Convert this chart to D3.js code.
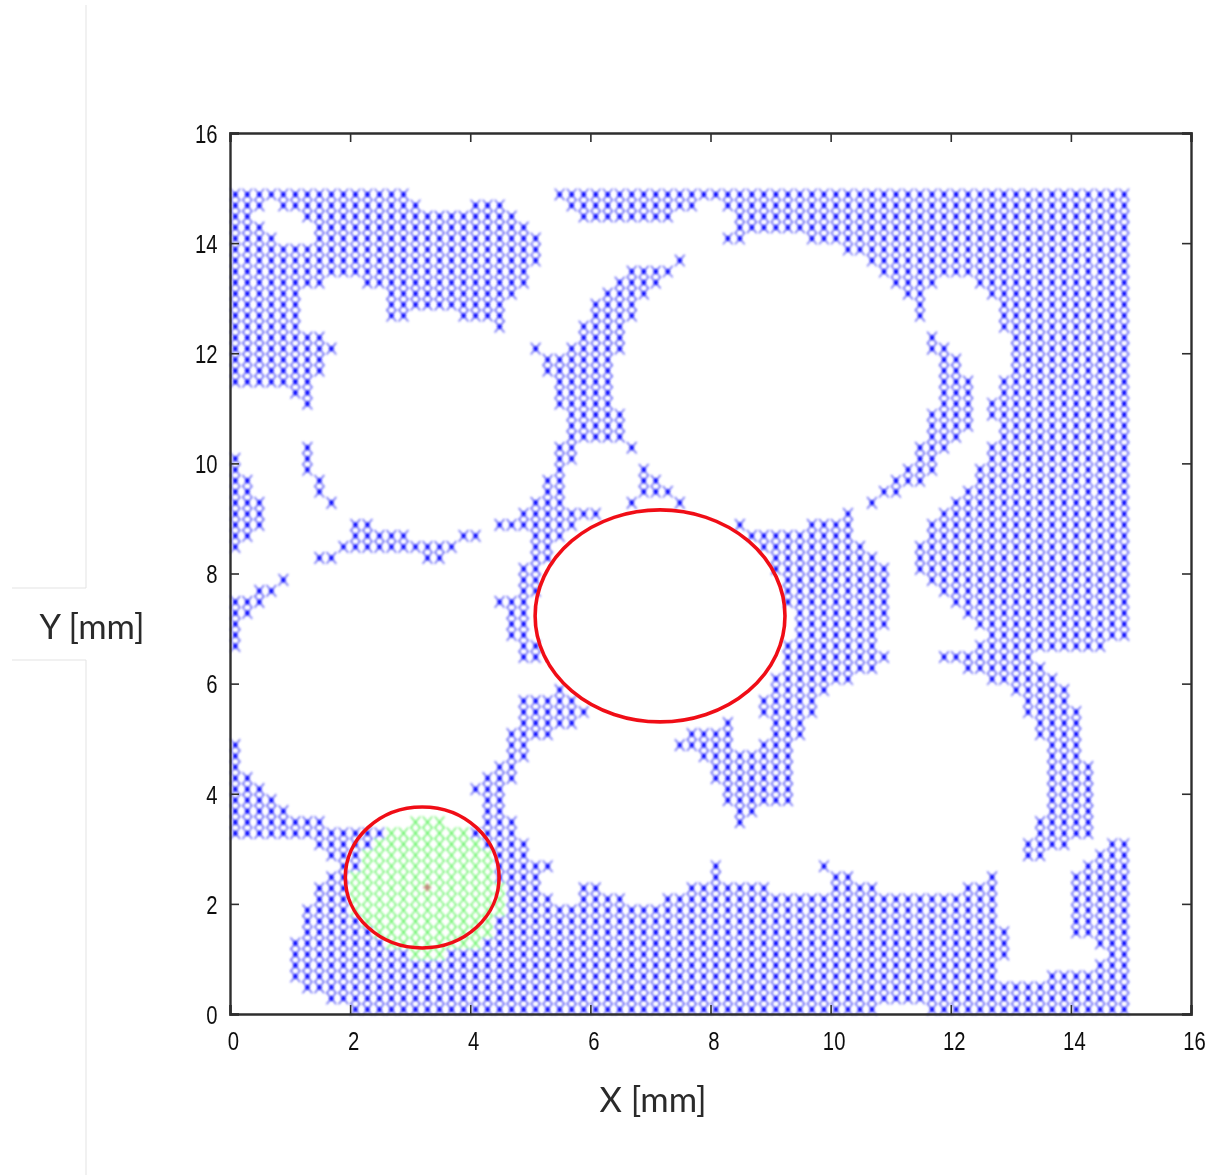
<!DOCTYPE html>
<html><head><meta charset="utf-8">
<style>html,body{margin:0;padding:0;background:#fff}svg{display:block}</style>
<script src="https://cdn.jsdelivr.net/npm/d3@7/dist/d3.min.js"></script>
</head><body>
<svg id="c" width="1210" height="1175"></svg>
<script>
// Axis
const axisDomain = [0, 16];
const tickValues = [0, 2, 4, 6, 8, 10, 12, 14, 16];
const xTitle = "X [mm]";
const yTitle = "Y [mm]";
// Measurement grid, in mm
const gridStart = 0.1;
const gridStep = 0.2;
const gridTop = 14.9;
// Runs of occupied grid columns per row, from the top row down: [first, last, first, last, ...]
const blueRuns = [
[0,14,27,74],[0,2,4,15,20,22,28,38,41,74],[0,1,6,23,29,36,42,74],[0,2,7,24,42,74],[0,3,7,25,41,42,48,74],
[0,25,51,74],[0,25,37,37,53,74],[0,24,33,36,54,74],[0,7,11,24,32,35,55,58,62,74],[0,5,13,23,31,34,56,57,63,74],
[0,5,13,22,30,33,57,57,64,74],[0,5,13,14,19,22,30,33,57,57,64,74],[0,5,22,22,29,32,64,74],[0,7,29,32,58,58,65,74],[0,8,25,25,28,32,58,59,65,74],
[0,7,26,31,59,60,65,74],[0,7,26,31,59,60,65,74],[0,6,27,31,59,61,64,74],[5,6,27,31,59,61,64,74],[6,6,27,31,59,61,63,74],
[28,32,58,61,63,74],[28,32,58,61,64,74],[28,32,58,60,64,74],[6,6,27,28,33,33,57,59,63,74],[0,0,6,6,27,28,57,58,63,74],
[0,0,6,6,27,27,34,34,56,58,62,74],[0,1,7,7,26,27,34,35,55,57,62,74],[0,1,7,7,26,27,34,36,54,55,61,74],[0,2,8,8,25,27,33,33,37,37,53,53,60,74],[0,2,24,30,51,51,59,74],
[0,2,10,11,22,28,42,42,48,51,58,74],[0,1,10,14,19,20,25,27,43,51,58,74],[0,0,9,18,25,26,44,52,57,74],[7,8,16,17,25,26,45,53,57,74],[24,25,45,54,57,74],
[4,4,24,25,46,54,58,74],[2,3,24,25,46,54,59,74],[0,2,22,24,46,54,60,74],[0,1,23,24,47,54,61,74],[0,0,23,24,47,54,62,74],
[0,0,23,24,47,53,63,74],[0,0,24,25,46,53,62,72],[24,25,46,54,59,66],[46,53,61,67],[45,51,63,68],
[27,27,45,49,65,69],[24,28,44,48,66,69],[24,29,44,48,66,70],[24,28,41,41,45,47,67,70],[23,26,38,41,45,47,67,70],
[0,0,23,24,37,41,44,46,68,70],[0,0,23,24,39,46,68,70],[0,0,22,23,40,46,68,71],[0,1,21,23,40,46,68,71],[0,2,20,22,41,46,68,71],
[0,3,21,22,41,46,68,71],[0,4,21,22,42,43,68,71],[0,7,21,23,42,42,67,71],[0,12,20,23,67,71],[7,11,21,24,66,69,73,74],
[8,10,22,24,66,67,72,74],[9,10,22,26,40,40,49,49,71,74],[8,9,22,25,40,40,50,51,63,63,70,74],[7,9,23,25,29,30,38,44,50,53,61,63,70,74],[7,9,23,26,29,32,36,63,70,74],
[6,9,23,63,70,74],[6,10,22,63,70,74],[6,11,22,64,70,74],[5,12,21,64,72,74],[5,14,18,64,73,74],
[5,63,72,74],[5,63,68,74],[6,74],[8,74],[10,53,58,74]
];
// Green cluster: grid row index and column runs
const greenRows = [57,58,59,60,61,62,63,64,65,66,67,68,69];
const greenRuns = [[15,17],[13,19],[12,20],[11,21],[11,21],[10,21],[10,22],[10,22],[10,22],[11,21],[12,21],[13,20],[15,17]];
const seedPoint = [[3.3, 2.3]];
// Red ellipses: centre x, centre y, radius x, radius y (mm)
const ellipses = [[7.16, 7.23, 2.08, 1.925], [3.2, 2.48, 1.28, 1.28]];

const plot = {left: 230, right: 1191, top: 133, bottom: 1014};
const x = d3.scaleLinear().domain(axisDomain).range([plot.left, plot.right]);
const y = d3.scaleLinear().domain(axisDomain).range([plot.bottom, plot.top]);
const svg = d3.select("#c");

const defs = svg.append("defs");
const blurDef = (id, sd) => defs.append("filter").attr("id",id).attr("x","-2%").attr("y","-2%").attr("width","104%").attr("height","104%")
  .append("feGaussianBlur").attr("stdDeviation",sd);
blurDef("soft", 0.95);
blurDef("softer", 0.7);
blurDef("line", 0.45);

// faint text-box edges at the left of the picture
const edges = [[86,5,86,588],[12,588,86,588],[12,660,86,660],[86,660,86,1175]];
svg.append("g").selectAll("line").data(edges).join("line")
  .attr("x1",d=>d[0]).attr("y1",d=>d[1]).attr("x2",d=>d[2]).attr("y2",d=>d[3])
  .attr("stroke","#e3e3e3").attr("stroke-width",1);

function expand(runs, row){
  const out = [];
  for (let i = 0; i < runs.length; i += 2)
    for (let c = runs[i]; c <= runs[i+1]; c++)
      out.push({col:c, row:row});
  return out;
}
const blue = blueRuns.flatMap((r,i)=>expand(r,i));
const green = greenRuns.flatMap((r,i)=>expand(r,greenRows[i]));
const isGreen = new Set(green.map(d=>d.col+"_"+d.row));
const xv = d => gridStart + gridStep*d.col;
const yv = d => gridTop - gridStep*d.row;
const marker = d3.symbol().type(d3.symbolTimes).size(78)();
const place = d => `translate(${x(xv(d))-0.7},${y(yv(d))+0.9}) scale(0.9,1.08)`;

const marks = svg.append("g").attr("filter","url(#soft)");
const bluePts = blue.filter(d=>!isGreen.has(d.col+"_"+d.row));
marks.append("g").selectAll("path").data(bluePts).join("path")
  .attr("d",marker).attr("transform",place)
  .attr("fill","none").attr("stroke","#4646f5").attr("stroke-width",1.25);
marks.append("g").selectAll("circle").data(bluePts).join("circle")
  .attr("r",2.5).attr("transform",place).attr("fill","#0c0cff");
marks.append("g").selectAll("path").data(green).join("path")
  .attr("d",marker).attr("transform",place)
  .attr("fill","none").attr("stroke","#3cf03c").attr("stroke-width",1.1);
marks.append("g").selectAll("path").data(seedPoint).join("path")
  .attr("d",d3.symbol().type(d3.symbolCross).size(30)())
  .attr("transform",d=>`translate(${x(d[0])-1},${y(d[1])})`)
  .attr("fill","#c2807a");

// axes
const frame = svg.append("g").attr("filter","url(#softer)");
const ink = "#2e2e2e";
const tick = -9;
const gB = frame.append("g").attr("transform",`translate(0,${plot.bottom})`)
  .call(d3.axisBottom(x).tickValues(tickValues).tickSize(tick).tickPadding(18).tickFormat(d3.format("d")));
const gL = frame.append("g").attr("transform",`translate(${plot.left},0)`)
  .call(d3.axisLeft(y).tickValues(tickValues).tickSize(tick).tickPadding(16).tickFormat(d3.format("d")));
frame.append("g").attr("transform",`translate(0,${plot.top})`)
  .call(d3.axisTop(x).tickValues(tickValues).tickSize(tick).tickFormat(""));
frame.append("g").attr("transform",`translate(${plot.right},0)`)
  .call(d3.axisRight(y).tickValues(tickValues).tickSize(tick).tickFormat(""));
frame.selectAll(".domain").attr("stroke",ink).attr("stroke-width",2.4);
frame.selectAll(".tick line").attr("stroke",ink).attr("stroke-width",1.6);
frame.selectAll("g.tick text").attr("fill","#111").style("font-family","'Liberation Sans'").style("font-size","26px");
gB.selectAll("g.tick text").attr("transform","translate(3,0) scale(0.78,1)");
gL.selectAll("g.tick text").attr("transform","translate(0,1) scale(0.78,1)");

// ellipses
svg.append("g").attr("filter","url(#line)").selectAll("ellipse").data(ellipses).join("ellipse")
  .attr("cx",d=>x(d[0])).attr("cy",d=>y(d[1]))
  .attr("rx",d=>x(d[2])-x(0)).attr("ry",d=>y(0)-y(d[3]))
  .attr("fill","none").attr("stroke","#f01018").attr("stroke-width",3.6);

// titles
const titles = svg.append("g").attr("filter","url(#line)")
  .style("font-family","'Lato'").style("font-size","34.5px").attr("fill","#2b2b2b");
titles.append("text").attr("x",653).attr("y",1112).attr("text-anchor","middle").text(xTitle);
titles.append("text").attr("x",92).attr("y",639).attr("text-anchor","middle").text(yTitle);
</script>
</body></html>
